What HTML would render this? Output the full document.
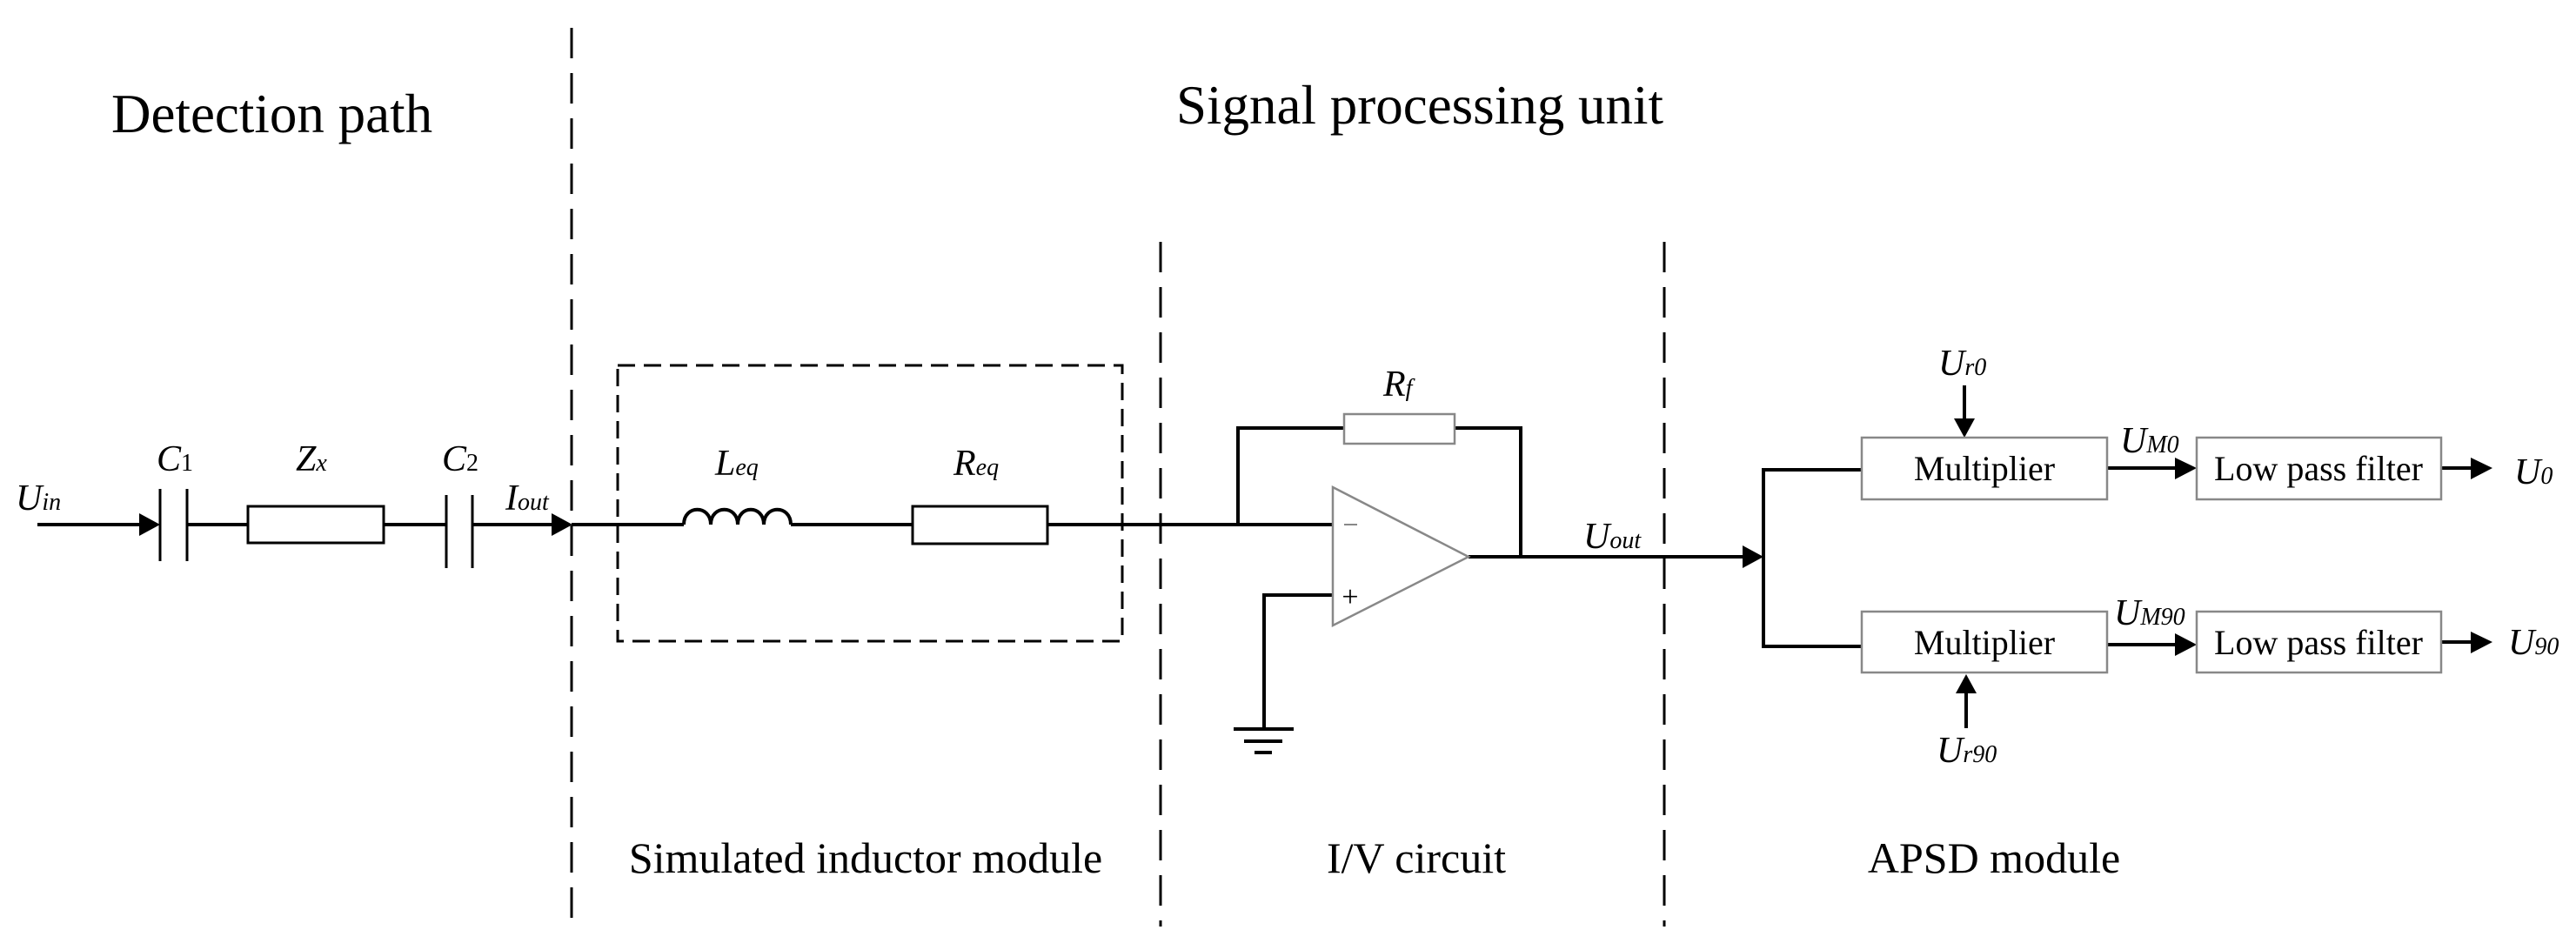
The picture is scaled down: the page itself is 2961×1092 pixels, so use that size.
<!DOCTYPE html>
<html><head><meta charset="utf-8"><style>
html,body{margin:0;padding:0;background:#fff;}
svg{display:block;}
text{font-family:"Liberation Serif",serif;fill:#000;}
.it{font-style:italic;}
</style></head><body>
<svg width="2961" height="1092" viewBox="0 0 2961 1092" xmlns="http://www.w3.org/2000/svg">
<g stroke="#000" stroke-width="3" stroke-dasharray="35 17" fill="none">
<line x1="657" y1="32" x2="657" y2="1065"/>
<line x1="1334" y1="278" x2="1334" y2="1065"/>
<line x1="1913" y1="278" x2="1913" y2="1065"/>
</g>
<rect x="710" y="420" width="580" height="317" fill="none" stroke="#000" stroke-width="3" stroke-dasharray="20 10"/>

<text x="128" y="152" font-size="63">Detection path</text>
<text x="1352" y="142" font-size="63">Signal processing unit</text>
<text x="995" y="1003" font-size="50" text-anchor="middle">Simulated inductor module</text>
<text x="1628" y="1003" font-size="50" text-anchor="middle">I/V circuit</text>
<text x="2292" y="1003" font-size="50" text-anchor="middle">APSD module</text>

<g stroke="#000" stroke-width="4" fill="none">
<line x1="43" y1="603" x2="165" y2="603"/>
<line x1="215" y1="603" x2="285" y2="603"/>
<line x1="441" y1="603" x2="513" y2="603"/>
<line x1="543" y1="603" x2="640" y2="603"/>
<line x1="657" y1="603" x2="786" y2="603"/>
<path d="M786 603 C786 580 817 580 817 603 C817 580 848 580 848 603 C848 580 878 580 878 603 C878 580 909 580 909 603"/>
<line x1="909" y1="603" x2="1049" y2="603"/>
<line x1="1204" y1="603" x2="1532" y2="603"/>
<polyline points="1423,603 1423,492 1545,492"/>
<polyline points="1672,492 1748,492 1748,640"/>
<line x1="1688" y1="640" x2="2005" y2="640"/>
<polyline points="1532,684 1453,684 1453,838"/>
<line x1="1418" y1="838" x2="1487" y2="838"/>
<line x1="1430" y1="852" x2="1474" y2="852"/>
<line x1="1442" y1="865" x2="1462" y2="865"/>
<polyline points="2140,540 2027,540 2027,743 2140,743"/>
<line x1="2422" y1="538" x2="2505" y2="538"/>
<line x1="2422" y1="741" x2="2505" y2="741"/>
<line x1="2806" y1="538" x2="2845" y2="538"/>
<line x1="2806" y1="738" x2="2845" y2="738"/>
<line x1="2258" y1="443" x2="2258" y2="485"/>
<line x1="2260" y1="837" x2="2260" y2="792"/>
</g>
<g stroke="#000" stroke-width="3" fill="none">
<line x1="184" y1="562" x2="184" y2="645"/>
<line x1="215" y1="562" x2="215" y2="645"/>
<line x1="513" y1="569" x2="513" y2="653"/>
<line x1="543" y1="569" x2="543" y2="653"/>
<rect x="285" y="582" width="156" height="42"/>
<rect x="1049" y="582" width="155" height="43"/>
</g>
<g fill="#000">
<polygon points="160,590 184,603 160,616"/>
<polygon points="634,590 658,603 634,616"/>
<polygon points="2003,627 2027,640 2003,653"/>
<polygon points="2500,526 2525,538 2500,551"/>
<polygon points="2500,728 2525,741 2500,754"/>
<polygon points="2840,526 2865,538 2840,551"/>
<polygon points="2840,726 2865,738 2840,751"/>
<polygon points="2246,481 2270,481 2258,503"/>
<polygon points="2248,797 2272,797 2260,775"/>
</g>
<g fill="#fff" stroke="#888" stroke-width="2.5">
<rect x="1545" y="476" width="127" height="34"/>
<polygon points="1532,560 1688,640 1532,719"/>
<rect x="2140" y="503" width="282" height="71"/>
<rect x="2140" y="703" width="282" height="70"/>
<rect x="2525" y="503" width="281" height="71"/>
<rect x="2525" y="703" width="281" height="70"/>
</g>
<line x1="1545" y1="603" x2="1560" y2="603" stroke="#888" stroke-width="2"/>
<text x="1552" y="697" font-size="34" text-anchor="middle">+</text>

<text x="2281" y="552" font-size="40" text-anchor="middle">Multiplier</text>
<text x="2281" y="752" font-size="40" text-anchor="middle">Multiplier</text>
<text x="2665" y="552" font-size="40" text-anchor="middle">Low pass filter</text>
<text x="2665" y="752" font-size="40" text-anchor="middle">Low pass filter</text>

<g class="it" font-size="42">
<text x="18" y="586">U<tspan font-size="28">in</tspan></text>
<text x="180" y="541">C<tspan font-size="28" font-style="normal">1</tspan></text>
<text x="340" y="541">Z<tspan font-size="28">x</tspan></text>
<text x="508" y="541">C<tspan font-size="28" font-style="normal">2</tspan></text>
<text x="581" y="586">I<tspan font-size="28">out</tspan></text>
<text x="822" y="546">L<tspan font-size="28">eq</tspan></text>
<text x="1096" y="546">R<tspan font-size="28">eq</tspan></text>
<text x="1590" y="455">R<tspan font-size="28">f</tspan></text>
<text x="1820" y="630">U<tspan font-size="28">out</tspan></text>
<text x="2228" y="431">U<tspan font-size="28">r0</tspan></text>
<text x="2226" y="876">U<tspan font-size="28">r90</tspan></text>
<text x="2437" y="520">U<tspan font-size="28">M0</tspan></text>
<text x="2430" y="718">U<tspan font-size="28">M90</tspan></text>
<text x="2890" y="556">U<tspan font-size="28">0</tspan></text>
<text x="2883" y="752">U<tspan font-size="28">90</tspan></text>
</g>
</svg>
</body></html>
